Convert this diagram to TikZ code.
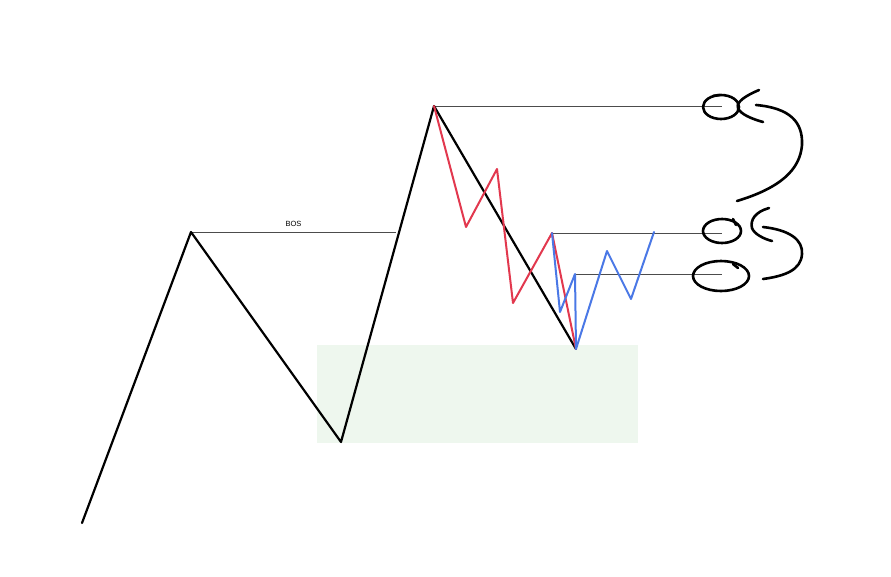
\documentclass[tikz,border=0pt]{standalone}
\usepackage{fontspec}
\setmainfont{Liberation Sans}
\definecolor{zone}{RGB}{238,247,238}
\definecolor{redline}{RGB}{226,56,78}
\definecolor{blueline}{RGB}{74,120,230}
\begin{document}
\begin{tikzpicture}[x=1pt,y=-1pt,
  price/.style={line width=2.2pt, line join=round, line cap=round},
  level/.style={line width=0.8pt, draw=black!70},
  pen/.style={line width=2.6pt, line cap=round, line join=round},
  lbl/.style={font=\fontsize{7.5}{8}\selectfont, inner sep=1pt}]
\useasboundingbox (0,0) rectangle (891,576);
\fill[white] (0,0) rectangle (891,576);
% zone
\fill[zone] (317,345) rectangle (638,443);
% coordinates
\coordinate (s0) at (82,523);
\coordinate (h1) at (191,232);
\coordinate (l1) at (341,442);
\coordinate (h2) at (434,106);
\coordinate (l2) at (576,349);
\coordinate (bosend) at (396,232);
% levels
\draw[level] (h1) -- node[lbl, above=4pt] {BOS} (bosend);
\coordinate (e1) at (722,106);
\coordinate (e2) at (722,233);
\coordinate (e3) at (722,274);
\draw[level] (h2) -- (e1);
% black
\draw[price] (s0) -- (h1) -- (l1) -- (h2) -- (l2);
% red
\coordinate (r1) at (466,227);
\coordinate (r2) at (497,169);
\coordinate (r3) at (513,303);
\coordinate (r4) at (552,233);
\draw[price, draw=redline, line width=2pt] (h2) -- (r1) -- (r2) -- (r3) -- (r4) -- (l2);
% blue
\coordinate (b1) at (560,312);
\coordinate (b2) at (575,274);
\coordinate (b3) at (607,251);
\coordinate (b4) at (631,299);
\coordinate (b5) at (654,232);
\draw[level] (r4) -- (e2);
\draw[level] (b2) -- (e3);
\draw[price, draw=blueline, line width=2pt] (r4) -- (b1) -- (b2) -- (l2) -- (b3) -- (b4) -- (b5);
% hand-drawn marks
\draw[pen] (721,107) ellipse [x radius=18, y radius=12];
\draw[pen] (713,96) -- (720,95);
\draw[pen] (759,90) .. controls (745,96) and (736,102) .. (738,108) .. controls (740,114) and (752,119) .. (763,122);
\draw[pen] (756,105) .. controls (790,108) and (803,122) .. (802,145) .. controls (800,170) and (780,188) .. (737,201);
\draw[pen] (722,231) ellipse [x radius=19, y radius=12];
\draw[pen] (733,219) -- (736,225);
\draw[pen] (769,208) .. controls (755,212) and (750,220) .. (752,228) .. controls (754,234) and (764,239) .. (772,241);
\draw[pen] (721,276) ellipse [x radius=28, y radius=15];
\draw[pen] (733,264) -- (738,268);
\draw[pen] (763,227) .. controls (790,230) and (803,240) .. (802,254) .. controls (801,270) and (785,276) .. (763,279);
\end{tikzpicture}
\end{document}
